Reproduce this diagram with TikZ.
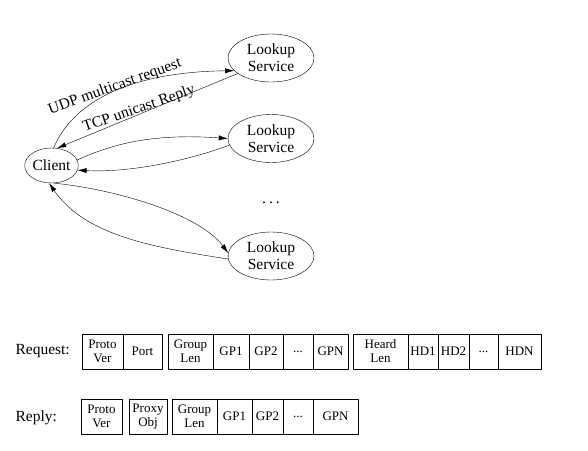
\documentclass[tikz,border=0pt]{standalone}
\usepackage{fontspec}
\setmainfont{Liberation Serif}
\usetikzlibrary{shapes.geometric,positioning,arrows.meta}
\begin{document}
\begin{tikzpicture}[x=1pt, y=1pt, line join=round, line cap=round, >={Latex[length=9pt,width=5pt]},
	svc/.style={draw, ellipse, minimum width=86pt, minimum height=48pt, inner sep=0pt, align=center, font=\fontsize{15.5}{17}\selectfont},
	fld/.style={draw, minimum height=35pt, inner sep=0pt, outer sep=0pt, align=center, font=\fontsize{13}{14}\selectfont},
	lbl/.style={font=\fontsize{15.5}{18}\selectfont}]
	\useasboundingbox (0,0) rectangle (588,-450);
	% client and lookup services
	\node[draw, ellipse, minimum width=53pt, minimum height=35pt, inner sep=0pt, lbl] (client) at (51.5,-165.5) {Client};
	\node[svc] (ls1) at (271,-58) {Lookup\\Service};
	\node[svc] (ls2) at (271,-138.5) {Lookup\\Service};
	\node[svc] (ls3) at (271,-256) {Lookup\\Service};
	\node[lbl] (more) at (271,-203) {.\hspace{3pt}.\hspace{3pt}.};
	\draw[->] (client.83) .. controls (72,-104) and (126,-72) .. (ls1.199);
	\draw[->] (ls1.205) -- (client.72);
	\node[lbl, rotate=20] (udp) at (115,-87) {UDP multicast request};
	\node[lbl, rotate=19] (tcp) at (139,-109) {TCP unicast Reply};
	\draw[->] (client.12) .. controls (110,-145) and (150,-133) .. (ls2.180);
	\draw[->] (ls2.189) .. controls (190,-160) and (130,-173) .. (client.350);
	\draw[->] (client.278) .. controls (120,-190) and (200,-215) .. (ls3.176);
	\draw[->] (ls3.184) .. controls (150,-247) and (85,-235) .. (client.262);
	% request packet
	\node[lbl, anchor=west] (reqlbl) at (12,-351.5) {Request:};
	\node[fld, minimum width=41pt] (rpv) at (102.5,-351.5) {Proto\\Ver};
	\node[fld, minimum width=39pt, right=0pt of rpv] (rport) {Port};
	\node[fld, minimum width=45pt, right=6pt of rport] (rgl) {Group\\Len};
	\node[fld, minimum width=36pt, right=0pt of rgl] (rgp1) {GP1};
	\node[fld, minimum width=34pt, right=0pt of rgp1] (rgp2) {GP2};
	\node[fld, minimum width=30pt, right=0pt of rgp2] (rdots) {...};
	\node[fld, minimum width=35pt, right=0pt of rdots] (rgpn) {GPN};
	\node[fld, minimum width=55pt, right=5pt of rgpn] (rhl) {Heard\\Len};
	\node[fld, minimum width=30pt, right=0pt of rhl] (rhd1) {HD1};
	\node[fld, minimum width=31pt, right=0pt of rhd1] (rhd2) {HD2};
	\node[fld, minimum width=29pt, right=0pt of rhd2] (rhdots) {...};
	\node[fld, minimum width=43pt, right=0pt of rhdots] (rhdn) {HDN};
	% reply packet
	\node[lbl, anchor=west] (replbl) at (12,-418) {Reply:};
	\node[fld, minimum width=41pt] (ppv) at (101.5,-416.5) {Proto\\Ver};
	\node[fld, minimum width=38pt, right=7pt of ppv] (ppo) {Proxy\\Obj};
	\node[fld, minimum width=45pt, right=5pt of ppo] (pgl) {Group\\Len};
	\node[fld, minimum width=35pt, right=0pt of pgl] (pgp1) {GP1};
	\node[fld, minimum width=31pt, right=0pt of pgp1] (pgp2) {GP2};
	\node[fld, minimum width=30pt, right=0pt of pgp2] (pdots) {...};
	\node[fld, minimum width=45pt, right=0pt of pdots] (pgpn) {GPN};
\end{tikzpicture}
\end{document}
